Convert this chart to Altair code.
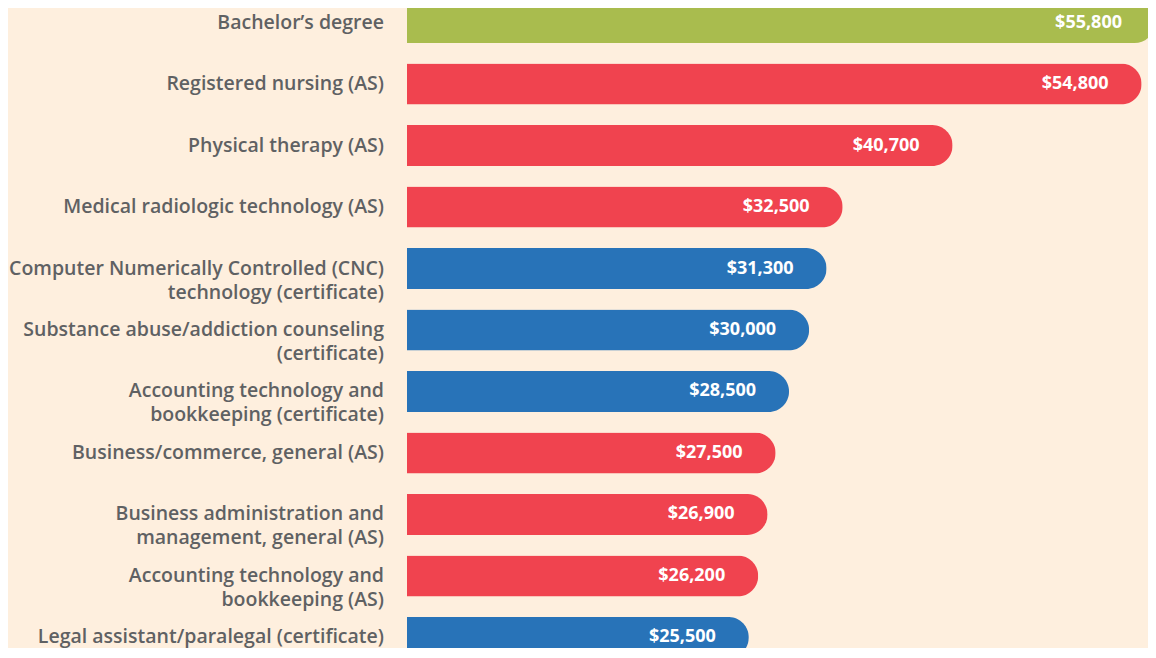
import altair as alt
import pandas as pd

categories = [
    "Bachelor\u2019s degree",
    "Registered nursing (AS)",
    "Physical therapy (AS)",
    "Medical radiologic technology (AS)",
    "Computer Numerically Controlled (CNC)\ntechnology (certificate)",
    "Substance abuse/addiction counseling\n(certificate)",
    "Accounting technology and\nbookkeeping (certificate)",
    "Business/commerce, general (AS)",
    "Business administration and\nmanagement, general (AS)",
    "Accounting technology and\nbookkeeping (AS)",
    "Legal assistant/paralegal (certificate)",
]
values = [55800, 54800, 40700, 32500, 31300, 30000, 28500, 27500, 26900, 26200, 25500]
kinds = ["Bachelor", "AS", "AS", "AS", "Certificate", "Certificate", "Certificate",
         "AS", "AS", "AS", "Certificate"]
value_labels = ["$55,800", "$54,800", "$40,700", "$32,500", "$31,300", "$30,000",
                "$28,500", "$27,500", "$26,900", "$26,200", "$25,500"]

df = pd.DataFrame({
    "id": list(range(len(categories))),
    "category": categories,
    "value": values,
    "kind": kinds,
    "vlabel": value_labels,
})

y_enc = alt.Y("id:O", axis=None,
              scale=alt.Scale(range=[-6, 650], paddingInner=0.333, paddingOuter=0))
x_scale = alt.Scale(domain=[0, 55800], range=[0, 748], nice=False, zero=True)

base = alt.Chart(df)

bars = base.mark_bar(cornerRadiusEnd=20.5).encode(
    y=y_enc,
    x=alt.X("value:Q", scale=x_scale, axis=None),
    color=alt.Color("kind:N", legend=None,
                    scale=alt.Scale(domain=["Bachelor", "AS", "Certificate"],
                                    range=["#A9BC4E", "#F0434F", "#2873B8"])),
)

vals = base.mark_text(align="right", baseline="middle", dx=-33, color="white",
                      font="Open Sans", fontWeight="bold", fontSize=18).encode(
    y=y_enc,
    x=alt.X("value:Q", scale=x_scale),
    text="vlabel:N",
)

labels = base.mark_text(align="right", baseline="middle", color="#5F6163",
                        font="Open Sans", fontWeight=600, fontSize=19.5,
                        lineBreak="\n", lineHeight=24).encode(
    y=y_enc,
    x=alt.value(-23),
    text="category:N",
)

chart = alt.layer(bars, vals, labels).properties(
    width=741, height=640,
    autosize=alt.AutoSizeParams(type="none"),
    padding={"left": 399, "top": 0, "right": 0, "bottom": 0},
    background="#FEEFDE",
).configure_view(stroke=None)

chart.save("out.html", embed_options={"renderer": "svg", "actions": False})
